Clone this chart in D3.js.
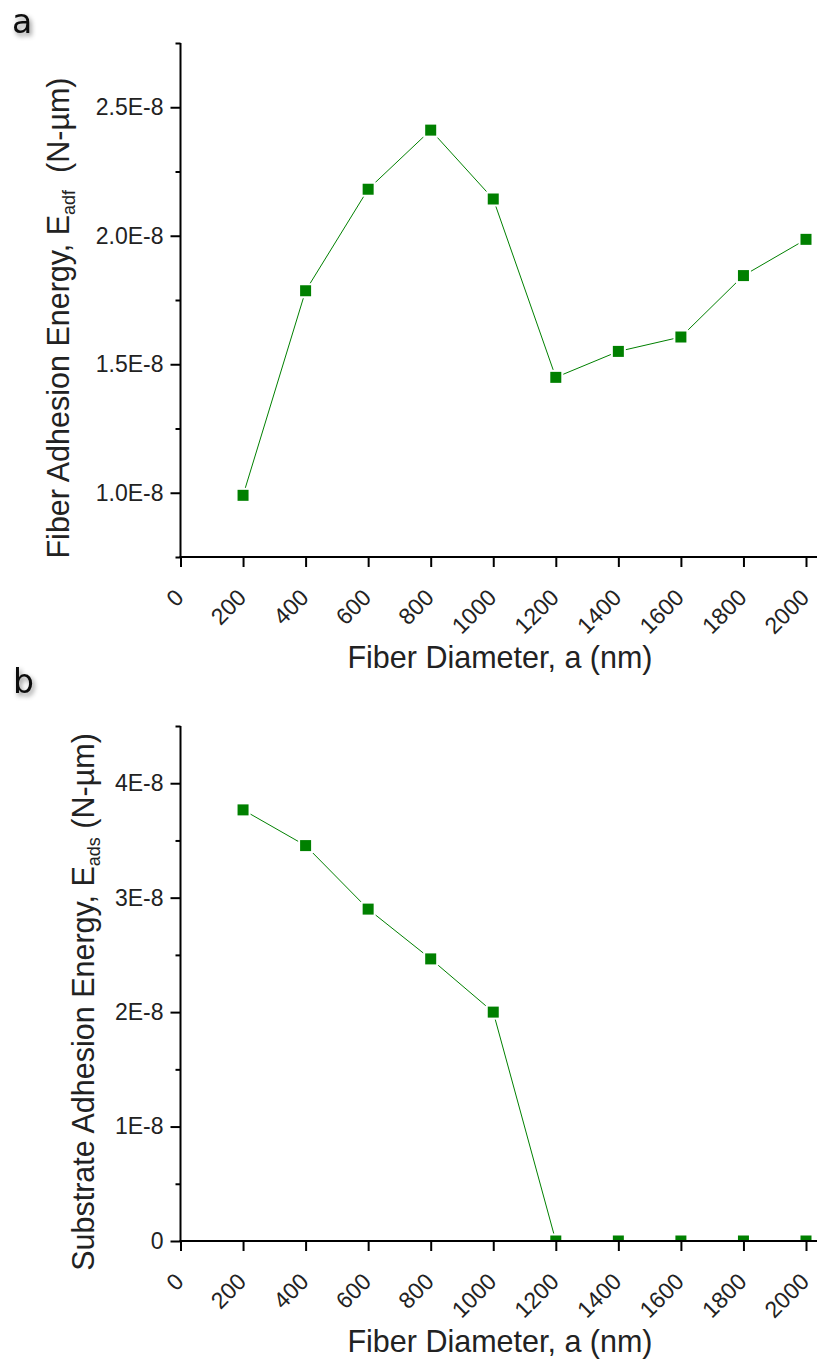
<!DOCTYPE html>
<html>
<head>
<meta charset="utf-8">
<script src="https://cdn.jsdelivr.net/npm/d3@7"></script>
<style>
  html, body { margin: 0; padding: 0; background: #fff; }
  svg { display: block; }
</style>
</head>
<body>
<script>
// ---- data ----
const diameters = [200, 400, 600, 800, 1000, 1200, 1400, 1600, 1800, 2000];
const fiberEnergy = [0.99e-8, 1.786e-8, 2.181e-8, 2.411e-8, 2.143e-8, 1.449e-8, 1.550e-8, 1.606e-8, 1.845e-8, 1.986e-8];
const substrateEnergy = [3.767e-8, 3.455e-8, 2.90e-8, 2.465e-8, 2.00e-8, 0, 0, 0, 0, 0];
const xTicks = [0, 200, 400, 600, 800, 1000, 1200, 1400, 1600, 1800, 2000];
const topYTicks = [1.0e-8, 1.5e-8, 2.0e-8, 2.5e-8];
const topYTickLabels = ["1.0E-8", "1.5E-8", "2.0E-8", "2.5E-8"];
const topYMinor = [0.75e-8, 1.25e-8, 1.75e-8, 2.25e-8, 2.75e-8];
const botYTicks = [0, 1e-8, 2e-8, 3e-8, 4e-8];
const botYTickLabels = ["0", "1E-8", "2E-8", "3E-8", "4E-8"];
const botYMinor = [0.5e-8, 1.5e-8, 2.5e-8, 3.5e-8, 4.5e-8];

const W = 817, H = 1363;
const FONT = "'Liberation Sans', Arial, sans-serif";
const GREEN = "#008000";
const TICK_FS = 23, TITLE_FS = 30.5;

const svg = d3.select("body").append("svg").attr("width", W).attr("height", H);
const defs = svg.append("defs");
defs.append("filter").attr("id", "shadow").attr("x", "-50%").attr("y", "-50%").attr("width", "200%").attr("height", "200%")
  .append("feDropShadow").attr("dx", 2).attr("dy", 3).attr("stdDeviation", 2.5)
  .attr("flood-color", "#000").attr("flood-opacity", 0.45);

function panel(cfg) {
  const x = d3.scaleLinear().domain([0, 2000]).range([180.5, 806]);
  const y = d3.scaleLinear().domain(cfg.yDomain).range([cfg.bottom, cfg.top]);
  const g = svg.append("g");

  const clipId = "clip" + cfg.id;
  defs.append("clipPath").attr("id", clipId).append("rect")
    .attr("x", x.range()[0]).attr("y", cfg.top - 10)
    .attr("width", W - x.range()[0]).attr("height", cfg.bottom - cfg.top + 10);

  const data = diameters.map((d, i) => ({ x: d, y: cfg.values[i] }));
  const dg = g.append("g").attr("clip-path", `url(#${clipId})`);
  dg.append("path").datum(data)
    .attr("fill", "none").attr("stroke", GREEN).attr("stroke-width", 1)
    .attr("d", d3.line().x(d => x(d.x)).y(d => y(d.y)));
  dg.selectAll("rect.halo").data(data).join("rect").attr("class", "halo")
    .attr("x", d => x(d.x) - 7.5).attr("y", d => y(d.y) - 7.5)
    .attr("width", 15).attr("height", 15).attr("fill", "#fff");
  dg.selectAll("rect.mk").data(data).join("rect").attr("class", "mk")
    .attr("x", d => x(d.x) - 5.5).attr("y", d => y(d.y) - 5.5)
    .attr("width", 11).attr("height", 11).attr("fill", GREEN);

  const yAxis = d3.axisLeft(y).tickValues(cfg.yTicks)
    .tickFormat((d, i) => cfg.yLabels[i]).tickSize(10).tickPadding(7).tickSizeOuter(0);
  const ya = g.append("g").attr("transform", `translate(${x.range()[0]},0)`).call(yAxis);
  ya.select(".domain").remove();
  ya.selectAll(".tick line").attr("stroke", "#000").attr("stroke-width", 2);
  ya.selectAll(".tick text").attr("font-family", FONT).attr("font-size", TICK_FS).attr("fill", "#222");
  const yMinor = d3.axisLeft(y).tickValues(cfg.yMinor).tickFormat("").tickSize(5).tickSizeOuter(0);
  const ym = g.append("g").attr("transform", `translate(${x.range()[0]},0)`).call(yMinor);
  ym.select(".domain").remove();
  ym.selectAll(".tick line").attr("stroke", "#000").attr("stroke-width", 2);

  const xAxis = d3.axisBottom(x).tickValues(xTicks).tickFormat(d3.format("d")).tickSize(10).tickSizeOuter(0);
  const xa = g.append("g").attr("transform", `translate(0,${cfg.bottom})`).call(xAxis);
  xa.select(".domain").remove();
  xa.selectAll(".tick line").attr("stroke", "#000").attr("stroke-width", 2);
  xa.selectAll(".tick text")
    .attr("font-family", FONT).attr("font-size", TICK_FS).attr("fill", "#222")
    .attr("text-anchor", "end").attr("dy", null).attr("y", null)
    .attr("transform", "translate(4,42) rotate(-45)");

  g.append("line").attr("x1", x.range()[0]).attr("x2", x.range()[0])
    .attr("y1", cfg.top).attr("y2", cfg.bottom + 1)
    .attr("stroke", "#000").attr("stroke-width", 2);
  g.append("line").attr("x1", x.range()[0] - 1).attr("x2", W)
    .attr("y1", cfg.bottom).attr("y2", cfg.bottom)
    .attr("stroke", "#000").attr("stroke-width", 2);

  g.append("text").attr("x", 500).attr("y", cfg.bottom + 111)
    .attr("text-anchor", "middle").attr("font-family", FONT).attr("font-size", TITLE_FS).attr("fill", "#222")
    .text("Fiber Diameter, a (nm)");

  const yt = g.append("text")
    .attr("transform", `translate(${cfg.yTitleX},${cfg.yTitleY}) rotate(-90)`)
    .attr("text-anchor", "middle").attr("font-family", FONT).attr("font-size", TITLE_FS).attr("fill", "#222");
  yt.append("tspan").text(cfg.yTitle[0]);
  yt.append("tspan").attr("font-size", 18).attr("dy", 6).text(cfg.yTitle[1]);
  yt.append("tspan").attr("dy", -6).text(cfg.yTitle[2]);

  svg.append("text").attr("x", cfg.letterX).attr("y", cfg.letterY)
    .attr("font-family", "'DejaVu Sans', sans-serif").attr("font-size", 33).attr("fill", "#111")
    .attr("filter", "url(#shadow)").text(cfg.letter);
}

panel({
  id: "a", top: 43, bottom: 557, yDomain: [0.75e-8, 2.75e-8],
  values: fiberEnergy, yTicks: topYTicks, yLabels: topYTickLabels, yMinor: topYMinor,
  yTitle: ["Fiber Adhesion Energy, E", "adf", "\u00a0\u00a0(N-\u00b5m)"],
  yTitleX: 69, yTitleY: 318, letter: "a", letterX: 12, letterY: 33
});
panel({
  id: "b", top: 726, bottom: 1241, yDomain: [0, 4.5e-8],
  values: substrateEnergy, yTicks: botYTicks, yLabels: botYTickLabels, yMinor: botYMinor,
  yTitle: ["Substrate Adhesion Energy, E", "ads", " (N-\u00b5m)"],
  yTitleX: 94, yTitleY: 1002, letter: "b", letterX: 13, letterY: 693
});
</script>
</body>
</html>
